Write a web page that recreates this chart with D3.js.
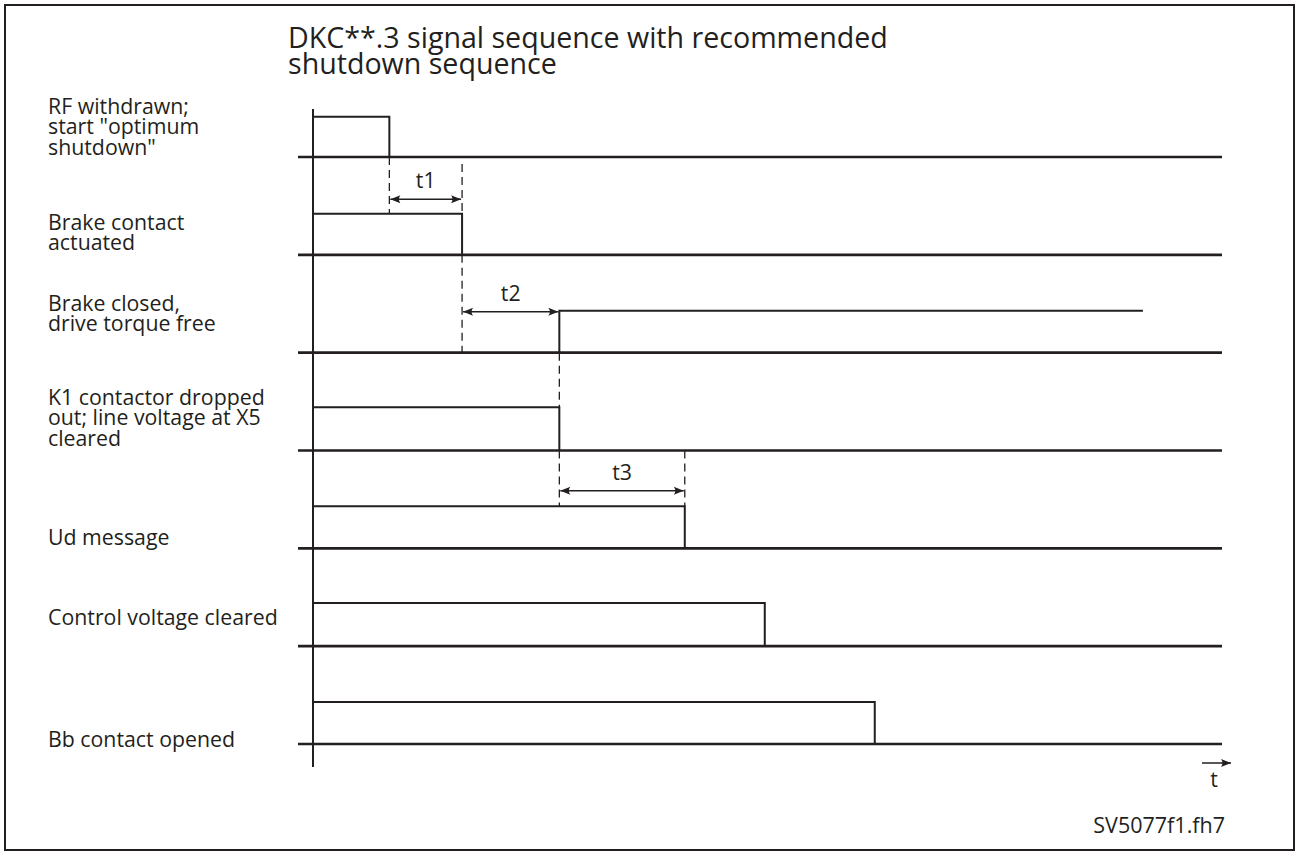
<!DOCTYPE html>
<html><head><meta charset="utf-8">
<script src="https://cdn.jsdelivr.net/npm/d3@7"></script>
<style>
body{margin:0;background:#fff}
text{font-family:"Open Sans",sans-serif;fill:#231f20}
</style>
</head><body>
<svg id="c" width="1295" height="852"></svg>
<script>
// ---------- data ----------
const titleLines = ["DKC**.3 signal sequence with recommended", "shutdown sequence"];
const signalNames = [
  ["RF withdrawn;", "start \"optimum", "shutdown\""],
  ["Brake contact", "actuated"],
  ["Brake closed,", "drive torque free"],
  ["K1 contactor dropped", "out; line voltage at X5", "cleared"],
  ["Ud message"],
  ["Control voltage cleared"],
  ["Bb contact opened"]
];
const initialLevel = [1, 1, 0, 1, 1, 1, 1];          // level at t = 0
const switchTime   = [8.4, 16.4, 27.1, 27.1, 40.9, 49.7, 61.8]; // edge time
const signalEnd    = [8.4, 16.4, 91.3, 27.1, 40.9, 49.7, 61.8]; // end of drawn trace
const highLevel    = [0.96, 0.98, 1.0, 1.03, 1.0, 1.03, 1.0];
const intervalLabels = ["t1", "t2", "t3"];
const intervalFrom   = [8.4, 16.4, 27.1];
const intervalTo     = [16.4, 27.1, 40.9];
const axisLabel = "t";
const footnote = "SV5077f1.fh7";

// ---------- layout ----------
const ink = "#231f20";
const svg = d3.select("#c");
const x = d3.scaleLinear().domain([0, 100]).range([313, 1222]);
const row = d3.scalePoint().domain(d3.range(signalNames.length)).range([157, 744]);
const amp = d3.scaleLinear().domain([0, 1]).range([0, -42]);
const yLevel = (i, lv) => row(i) + amp(lv * (lv ? highLevel[i] : 0));
const labelDy = [-43, -24.8, -41.7, -45.5, -3, -21.2, 2.7];
const lineH = 20.4;
const labelSize = 21.3;

// frame
svg.append("rect").attr("x", 5).attr("y", 5).attr("width", 1289).attr("height", 845)
  .attr("fill", "none").attr("stroke", ink).attr("stroke-width", 2);

// title
svg.append("text").attr("x", 288).attr("y", 48).attr("font-size", 28.6)
  .selectAll("tspan").data(titleLines).join("tspan")
  .attr("x", 288).attr("dy", (d, i) => i ? 25.5 : 0).text(d => d);

// arrow markers
const defs = svg.append("defs");
defs.append("marker").attr("id", "ah").attr("viewBox", "-11 -5 12 10")
  .attr("refX", 0).attr("refY", 0).attr("markerWidth", 12).attr("markerHeight", 10)
  .attr("markerUnits", "userSpaceOnUse").attr("orient", "auto-start-reverse")
  .append("path").attr("d", "M0,0 L-10,-4 Q-7,0 -10,4 Z").attr("fill", ink);

// baselines
svg.append("g").selectAll("line").data(signalNames).join("line")
  .attr("x1", x(-1.65)).attr("x2", x(100))
  .attr("y1", (d, i) => row(i)).attr("y2", (d, i) => row(i))
  .attr("stroke", ink).attr("stroke-width", 2.7);

// time axis (vertical)
svg.append("line").attr("x1", x(0)).attr("x2", x(0)).attr("y1", 109).attr("y2", 767)
  .attr("stroke", ink).attr("stroke-width", 2);

// signal traces
const line = d3.line().x(d => x(d[0])).y(d => d[1]);
svg.append("g").selectAll("path").data(signalNames).join("path")
  .attr("d", (d, i) => {
    const pts = initialLevel[i]
      ? [[0, yLevel(i, 1)], [switchTime[i], yLevel(i, 1)], [switchTime[i], yLevel(i, 0)]]
      : [[switchTime[i], yLevel(i, 0)], [switchTime[i], yLevel(i, 1)], [signalEnd[i], yLevel(i, 1)]];
    return line(pts);
  })
  .attr("fill", "none").attr("stroke", ink).attr("stroke-width", 2);

// dashed guides
const guides = [
  {t: switchTime[0], y1: row(0), y2: yLevel(1, 1)},
  {t: switchTime[1], y1: row(0) + 7, y2: yLevel(1, 1)},
  {t: switchTime[1], y1: row(1), y2: row(2)},
  {t: switchTime[2], y1: row(2), y2: yLevel(3, 1)},
  {t: switchTime[3], y1: row(3), y2: yLevel(4, 1)},
  {t: switchTime[4], y1: row(3), y2: yLevel(4, 1)}
];
svg.append("g").selectAll("line").data(guides).join("line")
  .attr("x1", d => x(d.t)).attr("x2", d => x(d.t))
  .attr("y1", d => d.y1).attr("y2", d => d.y2)
  .attr("stroke", ink).attr("stroke-width", 1.3).attr("stroke-dasharray", "8,5");

// interval arrows
const intervalY = [yLevel(1, 1) - 14.5, yLevel(2, 1) + 1, yLevel(4, 1) - 15.7];
const ig = svg.append("g");
ig.selectAll("line").data(intervalLabels).join("line")
  .attr("x1", (d, i) => x(intervalFrom[i]) + 1).attr("x2", (d, i) => x(intervalTo[i]) - 1)
  .attr("y1", (d, i) => intervalY[i]).attr("y2", (d, i) => intervalY[i])
  .attr("stroke", ink).attr("stroke-width", 1.5)
  .attr("marker-start", "url(#ah)").attr("marker-end", "url(#ah)");
ig.selectAll("text").data(intervalLabels).join("text")
  .attr("x", (d, i) => (x(intervalFrom[i]) + x(intervalTo[i])) / 2)
  .attr("y", (d, i) => intervalY[i] - 11)
  .attr("text-anchor", "middle").attr("font-size", labelSize).text(d => d);

// row labels
svg.append("g").selectAll("text").data(signalNames).join("text")
  .attr("x", 48).attr("y", (d, i) => row(i) + labelDy[i]).attr("font-size", labelSize)
  .selectAll("tspan").data(d => d).join("tspan")
  .attr("x", 48).attr("dy", (d, j) => j ? lineH : 0).text(d => d);

// t axis arrow
svg.append("line").attr("x1", 1202).attr("x2", 1231).attr("y1", 763).attr("y2", 763)
  .attr("stroke", ink).attr("stroke-width", 1.5).attr("marker-end", "url(#ah)");
svg.append("text").attr("x", 1214).attr("y", 787).attr("text-anchor", "middle")
  .attr("font-size", labelSize).text(axisLabel);

// footnote
svg.append("text").attr("x", 1225).attr("y", 833).attr("text-anchor", "end")
  .attr("font-size", 21.5).text(footnote);
</script>
</body></html>
